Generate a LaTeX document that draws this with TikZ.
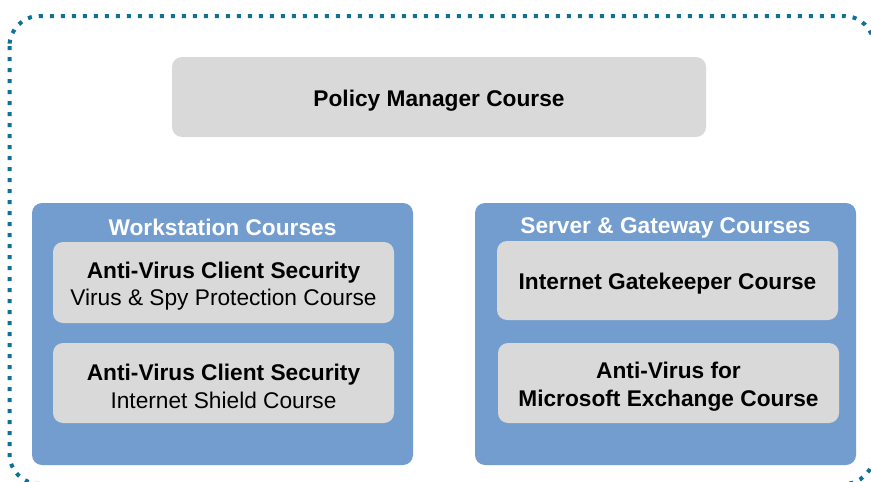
\documentclass[tikz,border=0pt]{standalone}
\usepackage{fontspec}
\setmainfont{Liberation Sans}
\definecolor{dotteal}{RGB}{16,113,150}
\definecolor{boxgray}{RGB}{217,217,217}
\definecolor{groupblue}{RGB}{116,157,207}
\tikzset{
  course/.style={fill=boxgray, draw=none, rounded corners=10pt, inner sep=0pt},
  coursetext/.style={inner sep=0pt, align=center, yshift=-3.5pt, font=\fontsize{22.7}{27.5}\selectfont},
  group/.style={fill=groupblue, draw=none, rounded corners=10pt, inner sep=0pt},
  grouptitle/.style={text=white, inner sep=0pt, font=\fontsize{22.7}{27}\selectfont\bfseries},
  frame/.style={draw=dotteal, line width=4pt, dash pattern=on 4pt off 7pt, rounded corners=30pt}
}
\begin{document}
\begin{tikzpicture}[x=1pt,y=-1pt]
\useasboundingbox[fill=white] (0,0) rectangle (871,482);
\draw[frame] (9.5,16) rectangle (874,484);
\node[course, minimum width=534pt, minimum height=80pt] (policy) at (439,97) {};
\node[coursetext] (policyt) at (policy.center) {\bfseries Policy Manager Course};
\node[group, minimum width=381pt, minimum height=262pt] (ws) at (222.5,334) {};
\node[grouptitle] (wstitle) at (222.5,227.5) {Workstation Courses};
\node[course, minimum width=341pt, minimum height=81pt] (av1) at (223.5,282.5) {};
\node[coursetext] (av1t) at (av1.center) {\textbf{Anti-Virus Client Security}\\Virus \& Spy Protection Course};
\node[course, minimum width=341pt, minimum height=80pt] (av2) at (223.5,383) {};
\node[coursetext] (av2t) at (av2.center) {\textbf{Anti-Virus Client Security}\\Internet Shield Course};
\node[group, minimum width=381pt, minimum height=262pt] (sg) at (665.5,334) {};
\node[grouptitle] (sgtitle) at (665.5,227.5) {Server \& Gateway Courses};
\node[course, minimum width=341pt, minimum height=79pt] (igk) at (667.5,280.5) {};
\node[coursetext] (igkt) at (igk.center) {\bfseries Internet Gatekeeper Course};
\node[course, minimum width=341pt, minimum height=80pt] (ex) at (668.5,383) {};
\node[coursetext] (ext) at (ex.center) {\bfseries Anti-Virus for\\\bfseries Microsoft Exchange Course};
\end{tikzpicture}
\end{document}
